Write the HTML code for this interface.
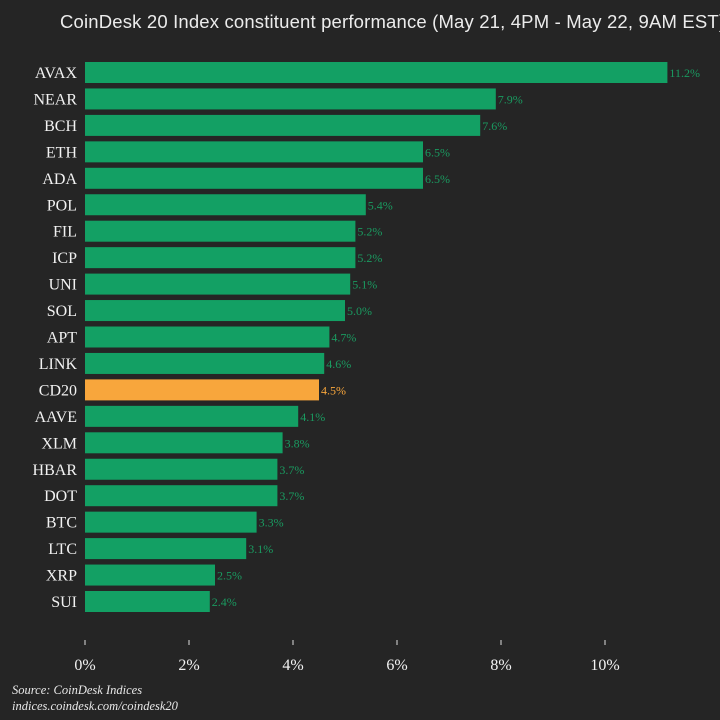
<!DOCTYPE html>
<html><head><meta charset="utf-8"><style>
html,body{margin:0;padding:0;background:#252525;}
svg{display:block}
</style></head><body>
<svg id="c" width="720" height="720" xmlns="http://www.w3.org/2000/svg">
<rect width="720" height="720" fill="#252525"/>
<text x="60" y="28" fill="#ececec" font-family="Liberation Sans, sans-serif" font-size="18.5" textLength="665">CoinDesk 20 Index constituent performance (May 21, 4PM - May 22, 9AM EST)</text>
<g id="bars"></g>
<g id="axis"></g>
<text x="12" y="694" fill="#e8e8e8" font-family="Liberation Serif, serif" font-style="italic" font-size="12.5">Source: CoinDesk Indices</text>
<text x="12" y="710" fill="#e8e8e8" font-family="Liberation Serif, serif" font-style="italic" font-size="12.5">indices.coindesk.com/coindesk20</text>
</svg>
<script>
const categories=["AVAX","NEAR","BCH","ETH","ADA","POL","FIL","ICP","UNI","SOL","APT","LINK","CD20","AAVE","XLM","HBAR","DOT","BTC","LTC","XRP","SUI"];
const values=[11.2,7.9,7.6,6.5,6.5,5.4,5.2,5.2,5.1,5.0,4.7,4.6,4.5,4.1,3.8,3.7,3.7,3.3,3.1,2.5,2.4];
const labels=["11.2%","7.9%","7.6%","6.5%","6.5%","5.4%","5.2%","5.2%","5.1%","5.0%","4.7%","4.6%","4.5%","4.1%","3.8%","3.7%","3.7%","3.3%","3.1%","2.5%","2.4%"];
const tickValues=[0,2,4,6,8,10];
const tickLabels=["0%","2%","4%","6%","8%","10%"];
const NS="http://www.w3.org/2000/svg";
const x=v=>85+v*52.0;
const y=i=>62+i*26.45;
function mk(tag,a){const e=document.createElementNS(NS,tag);for(const k in a)e.setAttribute(k,a[k]);return e;}
const gb=document.getElementById('bars');
categories.forEach((c,i)=>{
  const hi=c==="CD20";
  const col=hi?"#f8a63c":"#13a064";
  const r=mk('rect',{x:x(0),y:y(i),width:x(values[i])-x(0),height:21,fill:col});
  
  
  gb.appendChild(r);
  const t=mk('text',{x:77,y:y(i)+16,'text-anchor':'end',fill:'#f2f2f2','font-family':'Liberation Serif, serif','font-size':'16'});
  t.textContent=c;
  
  
  gb.appendChild(t);
  const v=mk('text',{x:x(values[i])+2,y:y(i)+15,fill:hi?"#f8a63c":"#1a9a60",'font-family':'Liberation Serif, serif','font-size':'12'});
  v.textContent=labels[i];
  
  
  gb.appendChild(v);
});
const ga=document.getElementById('axis');
tickValues.forEach((tv,i)=>{
  const l=mk('line',{x1:x(tv),x2:x(tv),y1:640,y2:645,stroke:'#ddd','stroke-width':1});
  
  
  ga.appendChild(l);
  const t=mk('text',{x:x(tv),y:670,'text-anchor':'middle',fill:'#f2f2f2','font-family':'Liberation Serif, serif','font-size':'16'});
  t.textContent=tickLabels[i];
  
  
  ga.appendChild(t);
});
</script>
</body></html>
